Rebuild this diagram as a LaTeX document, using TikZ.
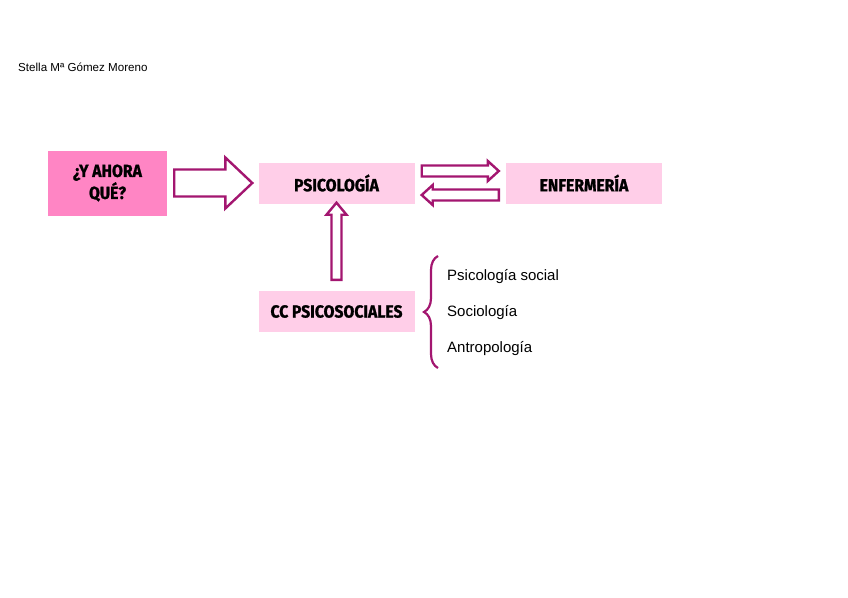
\documentclass[tikz,border=0pt]{standalone}
\usepackage{fontspec}
\setmainfont{Liberation Sans}
\newfontfamily\boxfont{Fira Sans}[FakeStretch=0.9,FakeBold=1.2]
\usepackage{tikz}
\usetikzlibrary{calc,decorations.pathreplacing}
\definecolor{mapHot}{RGB}{255,133,196}
\definecolor{mapLight}{RGB}{255,206,232}
\definecolor{mapPlum}{RGB}{163,22,112}

% fat arrow: start, end, shaft half width, head half width, head length
\newcommand{\fatarrow}[5]{%
  \coordinate (hb) at ($(#2)!#5!(#1)$);
  \draw[fat] ($(#1)!#3!90:(#2)$) -- ($(hb)!#3!90:(#2)$) -- ($(hb)!#4!90:(#2)$)
    -- (#2) -- ($(hb)!#4!-90:(#2)$) -- ($(hb)!#3!-90:(#2)$)
    -- ($(#1)!#3!-90:(#2)$) -- cycle;}

\begin{document}
\begin{tikzpicture}[x=1pt,y=-1pt,
    box/.style={fill=mapLight,minimum width=156pt,minimum height=41pt,inner sep=0pt,
                font=\boxfont\bfseries\fontsize{17.5}{21}\selectfont},
    hotbox/.style={box,fill=mapHot,minimum width=119pt,minimum height=65pt,
                   align=center},
    fat/.style={draw=mapPlum,fill=white,line width=2.4pt,line join=miter},
    item/.style={anchor=base west,inner sep=0pt,font=\fontsize{15}{18}\selectfont},
    brace/.style={draw=mapPlum,line width=2.2pt,decorate,
                  decoration={brace,amplitude=14pt}}]
  \useasboundingbox (0,0) rectangle (848,597);

  \node[anchor=base west,inner sep=0pt,font=\fontsize{11.6}{14}\selectfont]
    (autor) at (18,71) {Stella Mª Gómez Moreno};

  % boxes
  \node[hotbox] (ahora) at (107.5,183) {¿Y AHORA\\[1pt]QUÉ?};
  \node[box] (psico) at (336.5,183) {PSICOLOGÍA};
  \node[box] (enfer) at (584,183) {ENFERMERÍA};
  \node[box] (ccps) at (336.5,311.5) {CC PSICOSOCIALES};

  % arrows
  \coordinate (a1s) at ($(ahora.east)+(7,0)$);
  \coordinate (a1e) at ($(psico.west)+(-6,0)$);
  \fatarrow{a1s}{a1e}{13.5pt}{25.5pt}{27pt}
  \coordinate (a2s) at ($(psico.east)+(7,-12)$);
  \coordinate (a2e) at ($(enfer.west)+(-7,-12)$);
  \fatarrow{a2s}{a2e}{5.5pt}{10pt}{11pt}
  \coordinate (a3s) at ($(enfer.west)+(-7,12)$);
  \coordinate (a3e) at ($(psico.east)+(7,12)$);
  \fatarrow{a3s}{a3e}{5.5pt}{10pt}{11pt}
  \coordinate (a4s) at ($(ccps.north)+(0,-11)$);
  \coordinate (a4e) at ($(psico.south)+(0,-1)$);
  \fatarrow{a4s}{a4e}{5pt}{10pt}{12pt}

  % list
  \node[item] (l1) at (447,280) {Psicología social};
  \node[item] (l2) at (447,316) {Sociología};
  \node[item] (l3) at (447,352) {Antropología};
  \draw[brace] ($(l3.base west)+(-9,16)$) -- ($(l1.base west)+(-9,-24)$);
\end{tikzpicture}
\end{document}
